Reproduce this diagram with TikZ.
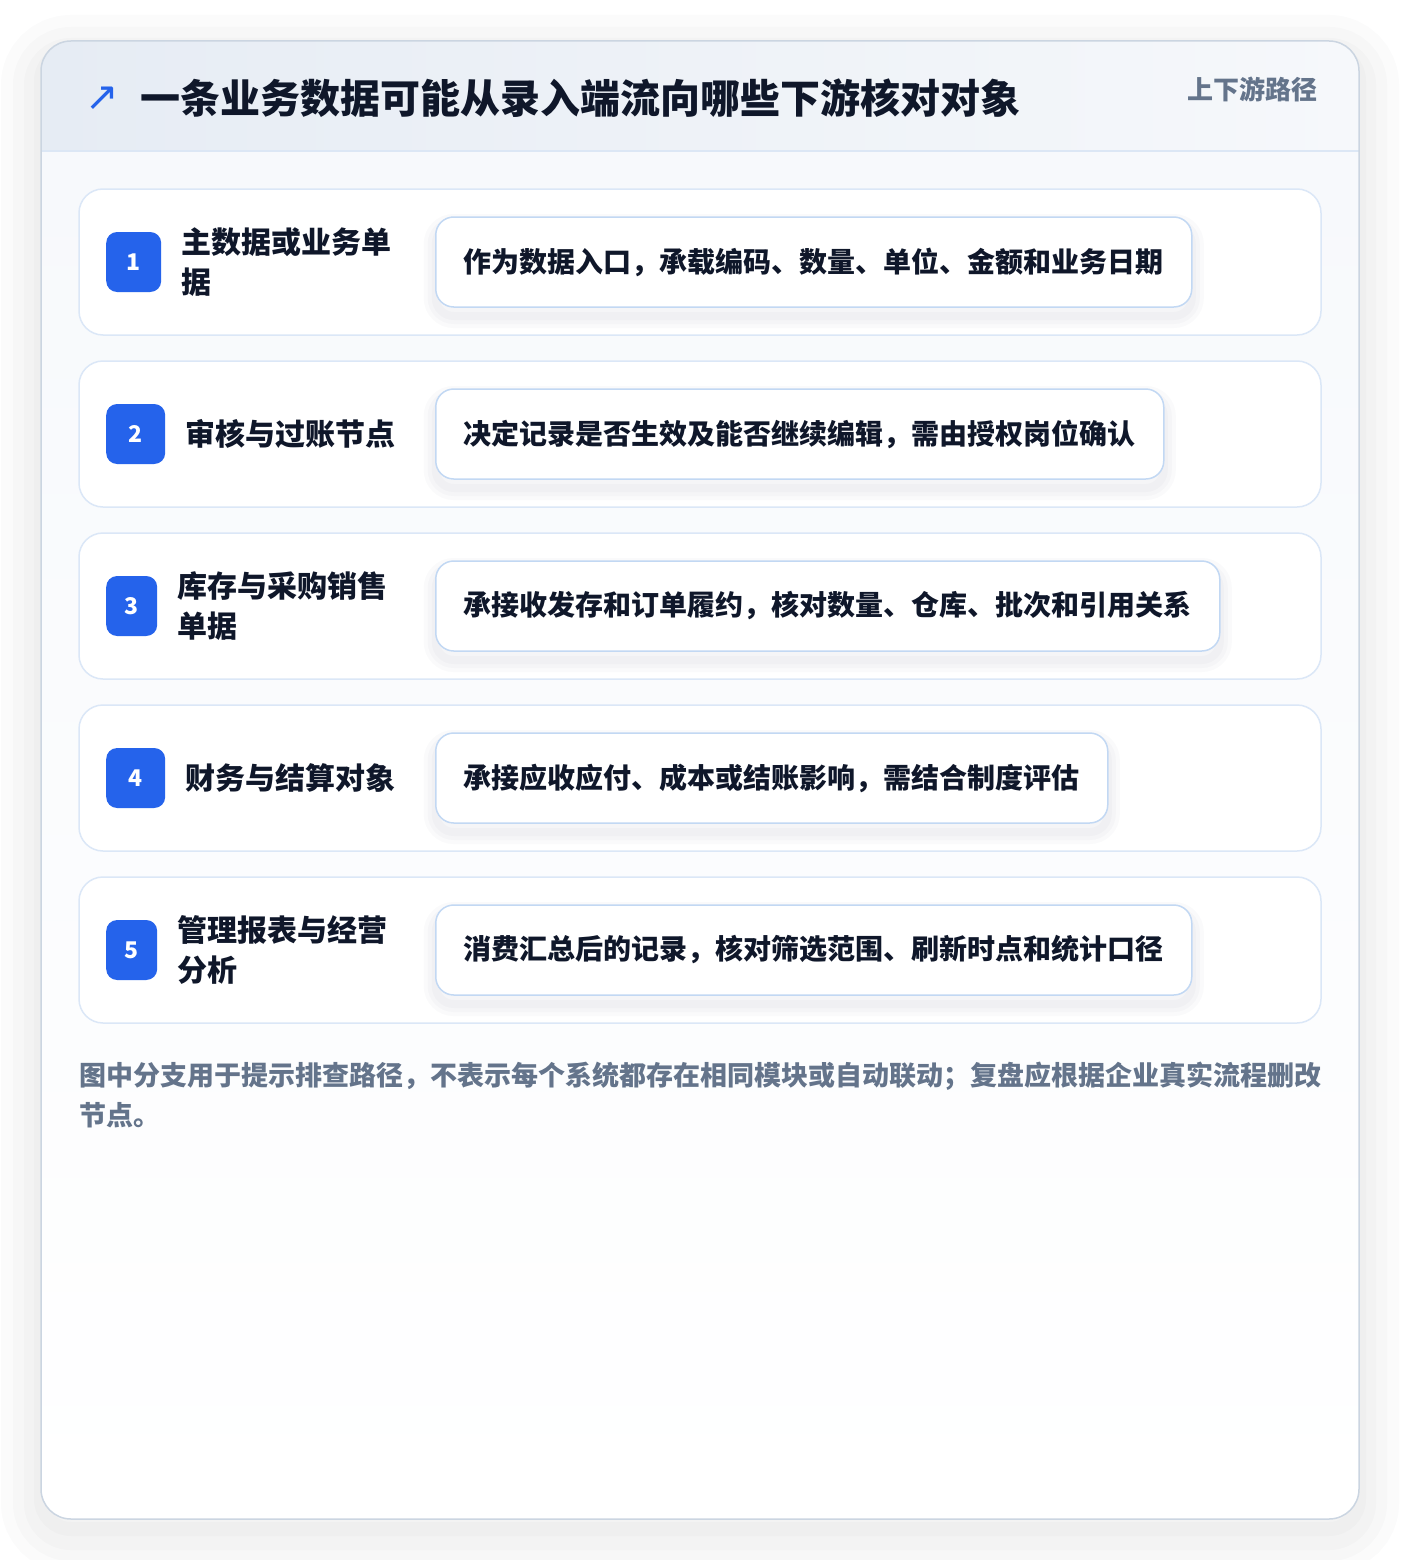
\documentclass[tikz,border=0pt]{standalone}
\usepackage{fontspec}
\setmainfont{Noto Sans CJK SC}
\newfontfamily\symfont{DejaVu Sans}
\usepackage{xcolor}
\usetikzlibrary{positioning}

\definecolor{cardline}{HTML}{CBD5E1}
\definecolor{headline}{HTML}{DCE7F5}
\definecolor{rowline}{HTML}{DBE7F7}
\definecolor{boxline}{HTML}{C2D8F3}
\definecolor{badgeblue}{HTML}{2563EB}
\definecolor{inktext}{HTML}{0F172A}
\definecolor{mutetext}{HTML}{64748B}
\definecolor{headleft}{HTML}{E6ECF4}
\definecolor{headright}{HTML}{F6F8FB}
\definecolor{bodytop}{HTML}{F7F9FC}
\definecolor{shadowgray}{HTML}{334155}

\tikzset{
  shadowring/.style 2 args={preaction={draw=shadowgray, draw opacity=#2, line width=#1,
    transform canvas={yshift=-9pt}}},
  boxshadow/.style={shadowring={24pt}{0.022}, shadowring={16pt}{0.022}, shadowring={8pt}{0.025}},
  cardshadow/.style={
    preaction={draw=shadowgray, draw opacity=0.018, line width=80pt, transform canvas={yshift=-14pt}},
    preaction={draw=shadowgray, draw opacity=0.018, line width=56pt, transform canvas={yshift=-14pt}},
    preaction={draw=shadowgray, draw opacity=0.02, line width=34pt, transform canvas={yshift=-14pt}},
    preaction={draw=shadowgray, draw opacity=0.02, line width=14pt, transform canvas={yshift=-10pt}}},
  rowcard/.style={draw=rowline, line width=1.5pt, fill=white, rounded corners=24pt,
    minimum width=1242pt, minimum height=146pt, inner sep=0pt},
  badge/.style={fill=badgeblue, text=white, rounded corners=11pt, minimum height=60pt,
    inner sep=0pt, anchor=west, font=\bfseries\fontsize{23}{23}\selectfont},
  rowlabel/.style={right=20pt of #1, align=left, inner sep=0pt, text=inktext,
    font=\bfseries\fontsize{30}{40.5}\selectfont},
  descbox/.style={boxshadow, draw=boxline, line width=1.5pt, fill=white, rounded corners=18pt,
    minimum height=90pt, inner xsep=28pt, anchor=west, text=inktext,
    font=\bfseries\fontsize{28}{28}\selectfont}
}

\begin{document}
\begin{tikzpicture}[x=1pt,y=-1pt]
  \useasboundingbox (0,0) rectangle (1400,1560);
  \fill[white] (0,0) rectangle (1400,1560);

  % outer card
  \path[cardshadow, fill=white, rounded corners=30pt] (41,41) rectangle (1359,1519);
  \begin{scope}
    \clip[rounded corners=30pt] (41,41) rectangle (1359,1519);
    \shade[left color=headleft, right color=headright] (41,41) rectangle (1359,151);
    \shade[top color=bodytop, bottom color=white] (41,151) rectangle (1359,1519);
  \end{scope}
  \draw[headline, line width=1.5pt] (41,151) -- (1359,151);
  \draw[cardline, line width=1.5pt, rounded corners=30pt] (41,41) rectangle (1359,1519);

  % header
  \node[inner sep=0pt, text=badgeblue, font=\symfont\fontsize{40}{40}\selectfont] (icon) at (102,99) {↗};
  \node[anchor=west, inner sep=0pt, text=inktext, font=\bfseries\fontsize{40}{40}\selectfont]
    (title) at (140,98) {一条业务数据可能从录入端流向哪些下游核对对象};
  \node[anchor=east, inner sep=0pt, text=mutetext, font=\bfseries\fontsize{26}{26}\selectfont]
    (tag) at (1318,89) {上下游路径};

  % row 1
  \node[rowcard] (row1) at (700,262) {};
  \node[badge, minimum width=55pt] (badge1) at (106,262) {1};
  \node[rowlabel=badge1] (label1) {主数据或业务单\\据};
  \node[descbox] (desc1) at (435,262) {作为数据入口，承载编码、数量、单位、金额和业务日期};

  % row 2
  \node[rowcard] (row2) at (700,434) {};
  \node[badge, minimum width=59pt] (badge2) at (106,434) {2};
  \node[rowlabel=badge2] (label2) {审核与过账节点};
  \node[descbox] (desc2) at (435,434) {决定记录是否生效及能否继续编辑，需由授权岗位确认};

  % row 3
  \node[rowcard] (row3) at (700,606) {};
  \node[badge, minimum width=51pt] (badge3) at (106,606) {3};
  \node[rowlabel=badge3] (label3) {库存与采购销售\\单据};
  \node[descbox] (desc3) at (435,606) {承接收发存和订单履约，核对数量、仓库、批次和引用关系};

  % row 4
  \node[rowcard] (row4) at (700,778) {};
  \node[badge, minimum width=59pt] (badge4) at (106,778) {4};
  \node[rowlabel=badge4] (label4) {财务与结算对象};
  \node[descbox] (desc4) at (435,778) {承接应收应付、成本或结账影响，需结合制度评估};

  % row 5
  \node[rowcard] (row5) at (700,950) {};
  \node[badge, minimum width=51pt] (badge5) at (106,950) {5};
  \node[rowlabel=badge5] (label5) {管理报表与经营\\分析};
  \node[descbox] (desc5) at (435,950) {消费汇总后的记录，核对筛选范围、刷新时点和统计口径};

  % footnote
  \node[anchor=west, align=left, inner sep=0pt, text=mutetext,
    font=\bfseries\fontsize{27}{40}\selectfont] (note) at (79,1095)
    {图中分支用于提示排查路径，不表示每个系统都存在相同模块或自动联动；复盘应根据企业真实流程删改\\节点。};
\end{tikzpicture}
\end{document}
